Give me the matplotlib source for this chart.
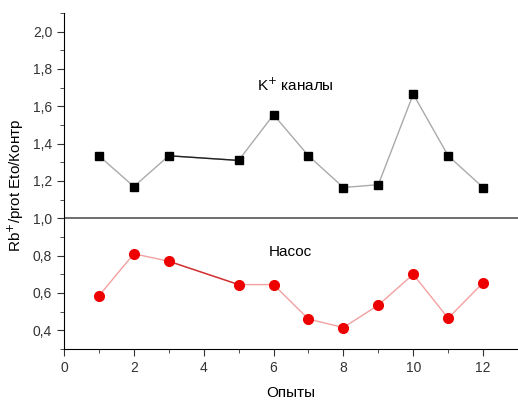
import matplotlib
matplotlib.use("Agg")
import matplotlib.pyplot as plt
from matplotlib.ticker import MultipleLocator, FuncFormatter

# data
k_x = [1, 2, 3, 5, 6, 7, 8, 9, 10, 11, 12]
k_y = [1.335, 1.17, 1.335, 1.31, 1.555, 1.335, 1.165, 1.18, 1.665, 1.335, 1.165]
pump_x = [1, 2, 3, 5, 6, 7, 8, 9, 10, 11, 12]
pump_y = [0.585, 0.81, 0.77, 0.645, 0.645, 0.46, 0.415, 0.535, 0.70, 0.465, 0.655]

plt.rcParams['font.family'] = ['Liberation Sans', 'DejaVu Sans']

fig = plt.figure(figsize=(5.18, 4.01), dpi=100)
ax = fig.add_axes([0.1236, 0.1297, 0.8764, 0.838])

# light lines, with the darker segment between points 3 and 5
ax.plot(k_x, k_y, color='#aaaaaa', lw=1, zorder=1)
ax.plot(k_x[2:4], k_y[2:4], color='#222222', lw=1, zorder=2)
ax.plot(k_x, k_y, 's', color='black', ms=6, zorder=3)

ax.plot(pump_x, pump_y, color='#f4a0a0', lw=1, zorder=1)
ax.plot(pump_x[2:4], pump_y[2:4], color='#d03030', lw=1, zorder=2)
ax.plot(pump_x, pump_y, 'o', color='#ee0000', ms=7, zorder=3)

ax.axhline(1.0, color='#555555', lw=1.2, zorder=0)

ax.set_xlim(0, 13)
ax.set_ylim(0.3, 2.1)
ax.xaxis.set_major_locator(MultipleLocator(2))
ax.xaxis.set_minor_locator(MultipleLocator(1))
ax.yaxis.set_major_locator(MultipleLocator(0.2))
ax.yaxis.set_minor_locator(MultipleLocator(0.1))
ax.yaxis.set_major_formatter(FuncFormatter(lambda v, p: f"{v:.1f}".replace('.', ',')))
ax.tick_params(which='both', direction='out', colors='#333333', labelsize=10)
ax.tick_params(which='major', length=5)
ax.tick_params(which='minor', length=3)

ax.spines['top'].set_visible(False)
ax.spines['right'].set_visible(False)

ax.text(5.54, 1.71, "K$^{+}$ каналы", fontsize=11, va='center')
ax.text(5.85, 0.82, "Насос", fontsize=11, va='center')

ax.set_xlabel("Опыты", fontsize=11)
ax.set_ylabel("Rb$^{+}$/prot Eto/Контр", fontsize=11)
ax.xaxis.set_label_coords(0.50, -0.11)
ax.yaxis.set_label_coords(-0.083, 0.488)

fig.savefig("out.png", dpi=100)
